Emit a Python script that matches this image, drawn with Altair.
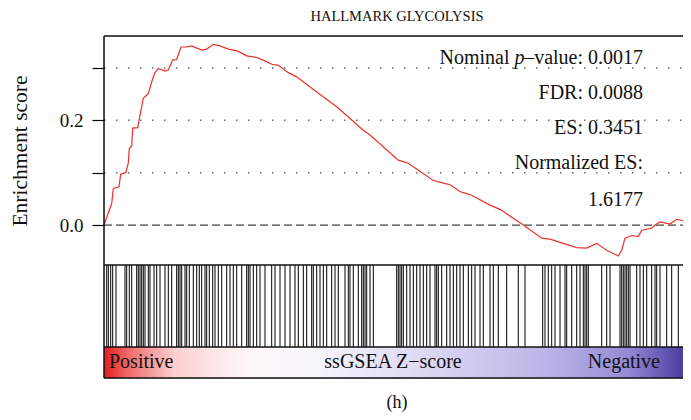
import altair as alt
import pandas as pd

FONT = "Liberation Serif"

# ---------------- data ----------------
chart_title = "HALLMARK GLYCOLYSIS"
y_title = "Enrichment score"

# running enrichment score (rank position, score)
es_rank = [0, 7.7, 9.3, 15, 16.7, 21.7, 24.3, 25.3, 27.7, 28.7, 33.7, 36, 39.3, 44.3, 48.3,
           51, 54.3, 61, 64.3, 68.7, 72.7, 77, 82.7, 87.7, 97.7, 102.7, 109.3, 116, 124.3,
           132.7, 142.7, 152.7, 159.3, 167.7, 174.3, 184.3, 192.7, 212.7, 232.7, 259.3, 266,
           294.3, 304.3, 329.3, 339.3, 346, 356, 359.3, 367.7, 386, 396, 419.3, 437.7, 446,
           456, 472.7, 482.7, 492.7, 502.7, 514.3, 517.7, 521, 527.7, 534.3, 537.7, 542.7,
           547.7, 551, 556, 566, 572.7, 579.3, 587]
es_value = [0, 0.041, 0.070, 0.073, 0.097, 0.10, 0.118, 0.146, 0.151, 0.185, 0.186, 0.21,
            0.242, 0.251, 0.277, 0.291, 0.299, 0.294, 0.296, 0.315, 0.316, 0.340, 0.340,
            0.342, 0.334, 0.336, 0.345, 0.342, 0.336, 0.333, 0.323, 0.320, 0.315, 0.307,
            0.305, 0.291, 0.283, 0.254, 0.226, 0.181, 0.172, 0.124, 0.118, 0.085, 0.080,
            0.077, 0.064, 0.062, 0.057, 0.038, 0.030, 0.0, -0.025, -0.027, -0.033, -0.043,
            -0.044, -0.035, -0.048, -0.059, -0.048, -0.025, -0.020, -0.022, -0.010, -0.008,
            -0.006, 0.0, 0.006, 0.002, 0.011, 0.008, 0.003]

# gene-set hit positions (barcode)
hit_rank = [2.7, 4.3, 6.7, 8.7, 12, 21, 22.7, 25.3, 27.7, 32.7, 34.3, 36, 37.7, 39.3, 41,
            44.3, 46, 50, 52.7, 56, 61, 64.3, 67.7, 72.7, 74.3, 76, 77.7, 81, 82.7, 85.3,
            89.3, 92.7, 95.3, 97.7, 101, 102.7, 105.3, 108.7, 111, 114.3, 117.7, 122.7, 126,
            129.3, 132.7, 137.7, 142.7, 144.3, 146, 149.3, 152.7, 156, 161, 167.7, 171, 176,
            181, 186, 191, 194.3, 199.3, 202.7, 207.7, 209.3, 212.7, 216, 219.3, 222.7,
            227.7, 231, 234.3, 241, 244.3, 246, 249.3, 254.3, 257.7, 259.3, 261, 262.7, 266,
            269.3,
            292.7, 294.3, 296, 297.7, 299.3, 302.7, 306, 309.3, 312.7, 316, 319.3, 322.7,
            326, 331, 332.7, 334.3, 337.7, 342.7, 346, 349.3, 352.7, 356, 359.3, 364.3,
            367.7, 371, 376, 379.3, 386, 389.3, 394.3, 402.7, 414.3, 421, 438.7, 441, 444.3,
            447.7, 451, 456, 461, 462.7, 467.7, 472.7, 476, 479.3, 481, 482.7, 484.3, 497.7,
            502.7, 506, 516, 517.7, 519.3, 521, 522.7, 524.3, 526, 532.7, 536, 539.3, 542.7,
            547.7, 551, 552.7, 556, 562.7, 567.7, 574.3]

grid_levels = [0.1, 0.2, 0.3]
zero_level = [0.0]
y_tick_values = [0.0, 0.1, 0.2, 0.3]
y_labelled = [0.0, 0.2]

p_prefix = "Nominal"
p_italic = "p"
p_suffix = "\u2013value: 0.0017"
stat_lines = ["FDR: 0.0088", "ES: 0.3451", "Normalized ES:", "1.6177"]

grad_left = "Positive"
grad_mid = "ssGSEA Z\u2212score"
grad_right = "Negative"
caption = "(h)"

# ---------------- layout (pixels) ----------------
VIEW_W = 579          # visible part of the plot (svg is clipped at the page edge)
X_RANGE = 587         # the panel itself runs past the right edge
H_TOP = 229           # enrichment-score panel
H_BAR = 82            # barcode panel
H_GRAD = 31           # gradient strip
H_ALL = H_TOP + H_BAR + H_GRAD
X_MAX = 587

xs = alt.Scale(domain=[0, X_MAX], nice=False, zero=False, range=[0, X_RANGE])
ys = alt.Scale(domain=[-0.0763, 0.361], nice=False, zero=False, range=[H_TOP, 0])

label_expr = " || ".join([f"abs(datum.value - ({v})) < 1e-6" for v in y_labelled])
label_expr = f"({label_expr}) ? format(datum.value, '.1f') : ''"

y_axis = alt.Axis(values=y_tick_values, labelExpr=label_expr, title=y_title,
                  domain=False, grid=False, tickSize=12, tickWidth=1.2,
                  tickColor="black", labelPadding=9, labelFont=FONT,
                  labelFontSize=19, labelColor="#111111", titleFont=FONT,
                  titleFontSize=21.5, titleFontWeight="normal", titleColor="#111111",
                  titlePadding=28)

es_df = pd.DataFrame({"rank": es_rank, "es": es_value})

line = alt.Chart(es_df).mark_line(color="#e8322a", strokeWidth=1.2).encode(
    x=alt.X("rank:Q", scale=xs, axis=None),
    y=alt.Y("es:Q", scale=ys, axis=y_axis),
)

dots = alt.Chart(pd.DataFrame({"es": grid_levels})).mark_rule(
    color="#6a6a6a", strokeDash=[1.5, 10.5], strokeWidth=1.5
).encode(y=alt.Y("es:Q", scale=ys, axis=y_axis), x=alt.value(0), x2=alt.value(X_RANGE))

zero = alt.Chart(pd.DataFrame({"es": zero_level})).mark_rule(
    color="#444444", strokeDash=[8, 4], strokeWidth=1.3
).encode(y=alt.Y("es:Q", scale=ys, axis=y_axis), x=alt.value(0), x2=alt.value(X_RANGE))


def txt(s, x, y, size=20, align="right", style="normal"):
    return alt.Chart(pd.DataFrame({"t": [s]})).mark_text(
        font=FONT, fontSize=size, align=align, baseline="middle", color="#111111",
        fontStyle=style
    ).encode(text="t:N", x=alt.value(x), y=alt.value(y))


RX = 539
stat_y = [57, 92, 127, 164]
texts = [
    txt(p_suffix, RX, 22),
    txt(p_italic, RX - 118.5, 22, style="italic"),
    txt(p_prefix, RX - 133.5, 22),
]
for s, yy in zip(stat_lines, stat_y):
    texts.append(txt(s, RX, yy))

bar = alt.Chart(pd.DataFrame({"rank": hit_rank})).mark_rule(
    color="black", strokeWidth=1
).encode(
    x=alt.X("rank:Q", scale=xs, axis=None),
    y=alt.value(H_TOP), y2=alt.value(H_TOP + H_BAR),
)

gradient = {
    "gradient": "linear", "x1": 0, "x2": 1, "y1": 0, "y2": 0,
    "stops": [
        {"offset": 0.0, "color": "#e11d1d"},
        {"offset": 0.04, "color": "#f06868"},
        {"offset": 0.12, "color": "#fbd0d0"},
        {"offset": 0.25, "color": "#fff8fa"},
        {"offset": 0.35, "color": "#f8f6fd"},
        {"offset": 0.55, "color": "#dcd8f3"},
        {"offset": 0.75, "color": "#bdb5e8"},
        {"offset": 0.89, "color": "#958bd6"},
        {"offset": 0.985, "color": "#4b3fa3"},
        {"offset": 1.0, "color": "#4b3fa3"},
    ],
}

grad_rect = alt.Chart(pd.DataFrame({"a": [0]})).mark_rect(color=gradient).encode(
    x=alt.value(0), x2=alt.value(X_RANGE),
    y=alt.value(H_TOP + H_BAR), y2=alt.value(H_ALL),
)

grad_y = H_TOP + H_BAR + 15
grad_texts = [
    txt(grad_left, 5, grad_y, align="left"),
    txt(grad_mid, 289, grad_y, align="center"),
    txt(grad_right, 556, grad_y, align="right"),
]


def hframe(yy):
    return alt.Chart(pd.DataFrame({"a": [0]})).mark_rule(
        color="#111111", strokeWidth=1.5
    ).encode(x=alt.value(0), x2=alt.value(X_RANGE + 5), y=alt.value(yy))


frames = [hframe(0), hframe(H_TOP), hframe(H_TOP + H_BAR), hframe(H_ALL),
          alt.Chart(pd.DataFrame({"a": [0]})).mark_rule(color="#111111", strokeWidth=1.5)
          .encode(x=alt.value(0), y=alt.value(0), y2=alt.value(H_ALL))]

title_txt = txt(chart_title, 293, -19, size=14.5, align="center")
caption_txt = txt(caption, 293, H_ALL + 25, size=18, align="center")

chart = alt.layer(
    dots, zero, bar, grad_rect, line, *texts, *grad_texts, *frames, title_txt, caption_txt
).properties(
    width=VIEW_W, height=H_ALL,
    autosize=alt.AutoSizeParams(type="none"),
    padding={"left": 96, "top": 28, "right": 0, "bottom": 34},
).configure_view(stroke=None).configure(background="white")

chart.save("out.html", embed_options={"renderer": "svg", "actions": False})
